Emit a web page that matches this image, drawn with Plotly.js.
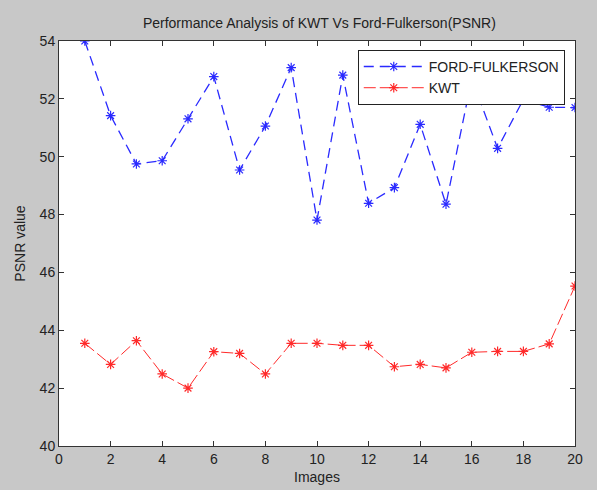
<!DOCTYPE html>
<html>
<head>
<meta charset="utf-8">
<script src="https://cdn.plot.ly/plotly-3.0.1.min.js"></script>
<style>html,body{margin:0;padding:0;background:#c8c8c8;}#chart{width:597px;height:490px;}</style>
</head>
<body>
<div id="chart"></div>
<script>
var images = [1,2,3,4,5,6,7,8,9,10,11,12,13,14,15,16,17,18,19,20];
var fordFulkerson = [54.0,51.42,49.75,49.86,51.31,52.77,49.54,51.06,53.08,47.81,52.82,48.39,48.93,51.12,48.36,52.7,50.29,51.98,51.71,51.7];
var kwt = [43.55,42.82,43.64,42.49,42.0,43.26,43.2,42.49,43.55,43.55,43.48,43.48,42.74,42.82,42.7,43.24,43.27,43.27,43.53,45.53];
var xTicks = [0,2,4,6,8,10,12,14,16,18,20];
var yTicks = [40,42,44,46,48,50,52,54];

var traces = [
  {x: images, y: fordFulkerson, name: 'FORD-FULKERSON', mode: 'lines+markers',
   line: {color: '#2a2aff', width: 1.3, dash: '10px,6px'},
   marker: {symbol: 'asterisk-open', size: 8, color: '#2a2aff', line: {color: '#2a2aff', width: 1.2}}},
  {x: images, y: kwt, name: 'KWT', mode: 'lines+markers',
   line: {color: '#ff2a2a', width: 1, dash: '12px,4px'},
   marker: {symbol: 'asterisk-open', size: 8, color: '#ff2a2a', line: {color: '#ff2a2a', width: 1.2}}}
];

var axisCommon = {
  showgrid: false, zeroline: false, showline: true, linecolor: '#333', linewidth: 1,
  mirror: 'ticks', ticks: 'inside', ticklen: 5, tickcolor: '#333',
  tickfont: {family: 'Liberation Sans, Arial, sans-serif', size: 14, color: '#222'}
};

var layout = {
  width: 597, height: 490,
  paper_bgcolor: '#c8c8c8', plot_bgcolor: '#ffffff',
  margin: {l: 59, r: 22, t: 41, b: 44},
  showlegend: true,
  title: {text: 'Performance Analysis of KWT Vs Ford-Fulkerson(PSNR)', x: 0.535, xanchor: 'center', y: 0.952, yanchor: 'middle',
          font: {family: 'Liberation Sans, Arial, sans-serif', size: 14, color: '#222'}},
  xaxis: Object.assign({}, axisCommon, {range: [0, 20], tickvals: xTicks, ticktext: xTicks.map(String),
          title: {text: 'Images', standoff: 6, font: {family: 'Liberation Sans, Arial, sans-serif', size: 14, color: '#222'}}}),
  yaxis: Object.assign({}, axisCommon, {range: [40, 54], tickvals: yTicks, ticktext: yTicks.map(String),
          title: {text: 'PSNR value', standoff: 10, font: {family: 'Liberation Sans, Arial, sans-serif', size: 14, color: '#222'}}}),
  legend: {x: 0.579, y: 0.978, xanchor: 'left', yanchor: 'top', bgcolor: '#ffffff', bordercolor: '#222', borderwidth: 1,
           font: {family: 'Liberation Sans, Arial, sans-serif', size: 14, color: '#222'}, tracegroupgap: 0, itemwidth: 60}
};

Plotly.newPlot('chart', traces, layout, {displayModeBar: false, staticPlot: true});
</script>
</body>
</html>
